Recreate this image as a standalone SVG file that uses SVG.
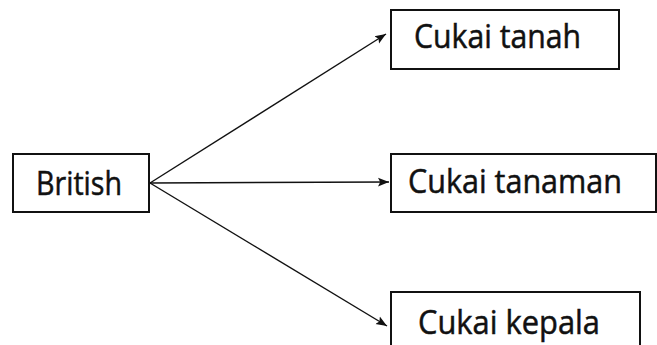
<svg xmlns="http://www.w3.org/2000/svg" width="657" height="345" viewBox="0 0 657 345">
<style>
.box{fill:#fff;stroke:#111;stroke-width:2}
.lbl{font-family:"Open Sans","Noto Sans",sans-serif;font-size:32px;fill:#111;stroke:#111;stroke-width:0.5}
.conn{stroke:#111;stroke-width:1.4;fill:none}
</style>
<defs>
<marker id="ah" viewBox="0 0 10 10" refX="10" refY="5" markerWidth="11" markerHeight="11" markerUnits="userSpaceOnUse" orient="auto">
<path d="M0,1 L10,5 L0,9 L2,5 Z" fill="#111"/>
</marker>
</defs>
<rect width="657" height="345" fill="#fff"/>
<g id="connectors">
<line class="conn" x1="150" y1="183" x2="386" y2="34" marker-end="url(#ah)"/>
<line class="conn" x1="150" y1="183" x2="389" y2="182" marker-end="url(#ah)"/>
<line class="conn" x1="150" y1="183" x2="387" y2="326" marker-end="url(#ah)"/>
</g>
<g id="british">
<rect class="box" x="13" y="154" width="136" height="58"/>
<text class="lbl" x="36" y="195" textLength="86" lengthAdjust="spacingAndGlyphs">British</text>
</g>
<g id="cukai-tanah">
<rect class="box" x="391" y="10" width="228" height="59"/>
<text class="lbl" x="414" y="48" textLength="167" lengthAdjust="spacingAndGlyphs">Cukai tanah</text>
</g>
<g id="cukai-tanaman">
<rect class="box" x="391" y="154" width="265" height="58"/>
<text class="lbl" x="408" y="193" textLength="214" lengthAdjust="spacingAndGlyphs">Cukai tanaman</text>
</g>
<g id="cukai-kepala">
<rect class="box" x="391" y="292" width="249" height="60"/>
<text class="lbl" x="418" y="334" textLength="182" lengthAdjust="spacingAndGlyphs">Cukai kepala</text>
</g>
</svg>
